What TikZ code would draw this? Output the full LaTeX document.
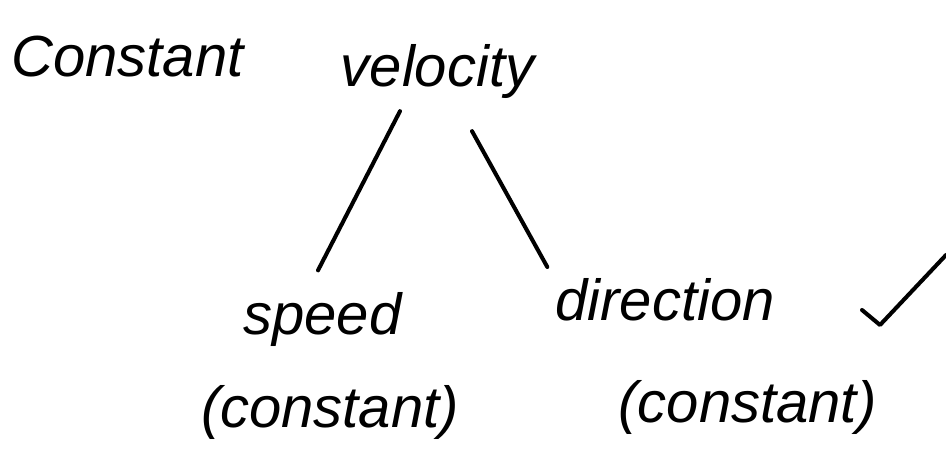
\documentclass[tikz,border=0pt]{standalone}
\usepackage{fontspec}
\setmainfont{Liberation Sans}
\usetikzlibrary{positioning,calc}

\begin{document}
\begin{tikzpicture}[
  word/.style={
    inner sep=1pt,
    font=\fontsize{33}{38}\selectfont\itshape
  },
  stroke/.style={
    line width=2.3pt,
    line cap=round,
    line join=round
  }
]
\useasboundingbox (0,0) rectangle (18.92,9.44);

% -------- Title --------
\node[word] (constant) at (2.55,8.3) {Constant};
\node[word] (velocity) at (8.75,8.0) {velocity};

% -------- Branches --------
\node[word] (speed) at (6.45,3.05) {speed};
\node[word] (speedc) at (6.6,1.2) {(constant)};

\node[word] (direction) at (13.3,3.45) {direction};
\node[word] (directionc) at (14.95,1.3) {(constant)};

% -------- Connectors --------
\draw[stroke] ($(velocity.south)+(-0.75,-0.2)$) -- ($(speed.north)+(-0.09,0.4)$);
\draw[stroke] ($(velocity.south)+(0.69,-0.6)$) -- ($(direction.west)+(-0.12,0.65)$);

% -------- Tick --------
\draw[stroke] (17.24,3.24) -- (17.6,2.94) -- (18.92,4.34);

\end{tikzpicture}
\end{document}
